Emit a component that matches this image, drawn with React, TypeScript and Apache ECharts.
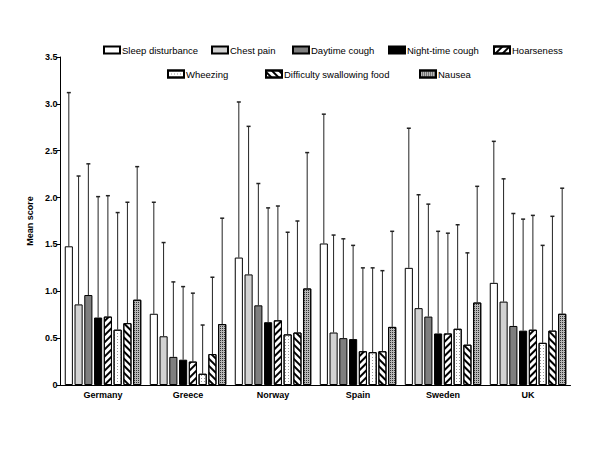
import React, { useEffect, useRef } from "react";
import * as echarts from "echarts";

const categories = ["Germany", "Greece", "Norway", "Spain", "Sweden", "UK"];
const seriesNames = [
  "Sleep disturbance",
  "Chest pain",
  "Daytime cough",
  "Night-time cough",
  "Hoarseness",
  "Wheezing",
  "Difficulty swallowing food",
  "Nausea",
];
const yTicks = [0, 0.5, 1.0, 1.5, 2.0, 2.5, 3.0, 3.5];

const sleepMean = [1.48, 0.76, 1.36, 1.51, 1.25, 1.09];
const sleepUpper = [3.12, 1.95, 3.02, 2.89, 2.74, 2.6];
const chestMean = [0.86, 0.52, 1.18, 0.56, 0.82, 0.89];
const chestUpper = [2.23, 1.52, 2.76, 1.6, 2.03, 2.2];
const dayMean = [0.96, 0.3, 0.85, 0.5, 0.73, 0.63];
const dayUpper = [2.36, 1.1, 2.15, 1.56, 1.93, 1.83];
const nightMean = [0.72, 0.27, 0.67, 0.49, 0.55, 0.58];
const nightUpper = [2.01, 1.05, 1.89, 1.49, 1.64, 1.77];
const hoarseMean = [0.73, 0.25, 0.69, 0.36, 0.55, 0.59];
const hoarseUpper = [2.02, 0.98, 1.91, 1.25, 1.62, 1.81];
const wheezeMean = [0.59, 0.12, 0.54, 0.35, 0.6, 0.45];
const wheezeUpper = [1.84, 0.64, 1.63, 1.25, 1.71, 1.49];
const swallowMean = [0.66, 0.33, 0.56, 0.36, 0.43, 0.58];
const swallowUpper = [1.95, 1.15, 1.75, 1.22, 1.41, 1.8];
const nauseaMean = [0.91, 0.65, 1.03, 0.62, 0.88, 0.76];
const nauseaUpper = [2.33, 1.78, 2.48, 1.64, 2.12, 2.1];

const means = [sleepMean, chestMean, dayMean, nightMean, hoarseMean, wheezeMean, swallowMean, nauseaMean];
const uppers = [sleepUpper, chestUpper, dayUpper, nightUpper, hoarseUpper, wheezeUpper, swallowUpper, nauseaUpper];

const FONT = "'Liberation Sans', Arial, sans-serif";

const styles: any[] = [
  { color: "#ffffff" },
  { color: "#d2d2d2" },
  { color: "#7f7f7f" },
  { color: "#000000" },
  {
    color: "#ffffff",
    decal: { symbol: "rect", color: "#000", dashArrayX: [1, 0], dashArrayY: [1.5, 2.5], rotation: -Math.PI / 4 },
  },
  {
    color: "#ffffff",
    decal: { symbol: "rect", color: "#999", symbolSize: 1, dashArrayX: [1, 2], dashArrayY: [1, 2] },
  },
  {
    color: "#ffffff",
    decal: { symbol: "rect", color: "#000", dashArrayX: [1, 0], dashArrayY: [1.5, 2.5], rotation: Math.PI / 4 },
  },
  {
    color: "#b8b8b8",
    decal: { symbol: "rect", color: "#333", symbolSize: 1, dashArrayX: [1, 1], dashArrayY: [1, 1] },
  },
];

const legendPos = [
  [103, 45],
  [211, 45],
  [292, 45],
  [388, 45],
  [493, 45],
  [167, 69],
  [265, 69],
  [419, 69],
];

const CAT_GAP = 0.1;
const BAR_GAP = 0.2;

export default function App() {
  const ref = useRef<HTMLDivElement>(null);
  useEffect(() => {
    document.body.style.margin = "0";
    const chart = echarts.init(ref.current!, undefined, { renderer: "svg" });

    const barSeries = seriesNames.map((name, i) => ({
      name,
      type: "bar",
      data: means[i],
      barGap: `${BAR_GAP * 100}%`,
      barCategoryGap: `${CAT_GAP * 100}%`,
      itemStyle: { ...styles[i], borderColor: "#000", borderWidth: 1 },
      z: 2,
    }));

    const errData: number[][] = [];
    seriesNames.forEach((_, s) => {
      categories.forEach((_, c) => {
        errData.push([c, s, means[s][c], uppers[s][c]]);
      });
    });

    const errSeries = {
      type: "custom",
      name: "err",
      z: 5,
      silent: true,
      encode: { x: 0, y: 3 },
      data: errData,
      renderItem: (params: any, api: any) => {
        const c = api.value(0);
        const s = api.value(1);
        const v = api.value(2);
        const u = api.value(3);
        const band = api.size([1, 0])[0];
        const used = band * (1 - CAT_GAP);
        const bw = used / (8 + 7 * BAR_GAP);
        const center = api.coord([c, 0])[0];
        const x = center - used / 2 + s * bw * (1 + BAR_GAP) + bw / 2;
        const y0 = api.coord([c, v])[1];
        const y1 = api.coord([c, u])[1];
        return {
          type: "group",
          children: [
            { type: "line", shape: { x1: x, y1: y0, x2: x, y2: y1 }, style: { stroke: "#222", lineWidth: 1 } },
            { type: "line", shape: { x1: x - 2, y1: y1, x2: x + 2, y2: y1 }, style: { stroke: "#222", lineWidth: 1.5 } },
          ],
        };
      },
    };

    const legends = seriesNames.map((name, i) => ({
      data: [name],
      left: legendPos[i][0],
      top: legendPos[i][1],
      padding: 0,
      itemWidth: 16,
      itemHeight: 7,
      icon: "rect",
      selectedMode: false,
      textStyle: { fontFamily: FONT, fontSize: 9.5, color: "#000", padding: [0, 0, 0, -3] },
    }));

    chart.setOption({
      animation: false,
      backgroundColor: "#fff",
      legend: legends,
      grid: { left: 60.5, right: 29.5, top: 57, bottom: 65, containLabel: false },
      xAxis: {
        type: "category",
        data: categories,
        axisLine: { lineStyle: { color: "#000", width: 1 } },
        axisTick: { show: false },
        axisLabel: { fontFamily: FONT, fontSize: 9, fontWeight: "bold", color: "#000", margin: 5 },
      },
      yAxis: {
        type: "value",
        min: 0,
        max: 3.5,
        interval: 0.5,
        name: "Mean score",
        nameLocation: "middle",
        nameGap: 20,
        nameTextStyle: { fontFamily: FONT, fontSize: 9, fontWeight: "bold", color: "#000" },
        axisLine: { show: true, lineStyle: { color: "#000", width: 1 } },
        axisTick: { show: true, length: 4, lineStyle: { color: "#000" } },
        splitLine: { show: false },
        axisLabel: {
          fontFamily: FONT,
          fontSize: 9,
          fontWeight: "bold",
          color: "#000",
          margin: 3,
          formatter: (v: number) => (yTicks.indexOf(v) === 0 ? "0" : v.toFixed(1)),
        },
      },
      series: [...barSeries, errSeries],
    });
    return () => chart.dispose();
  }, []);
  return <div ref={ref} style={{ width: 600, height: 450 }} />;
}
